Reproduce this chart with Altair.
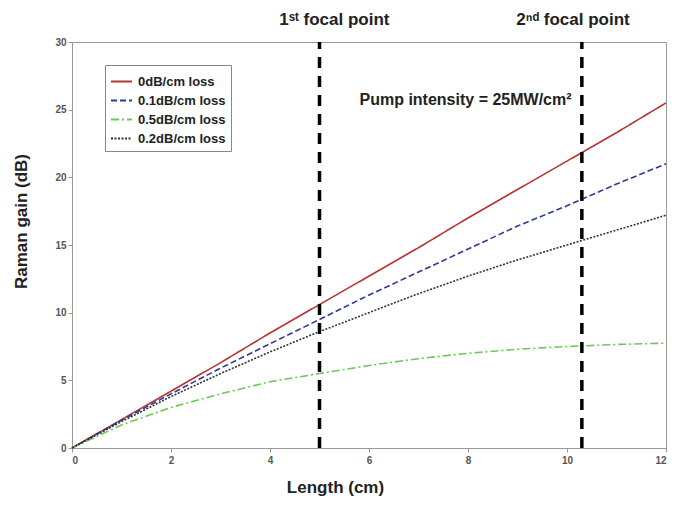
import altair as alt
import pandas as pd

length_cm = [0, 1, 2, 3, 4, 5, 6, 7, 8, 9, 10, 11, 12]
gain_0db = [0, 2.1, 4.2, 6.3, 8.5, 10.6, 12.7, 14.8, 17.0, 19.1, 21.2, 23.3, 25.5]
gain_01db = [0, 2.05, 4.0, 5.9, 7.7, 9.5, 11.3, 13.0, 14.7, 16.4, 17.9, 19.5, 21.0]
gain_05db = [0, 1.7, 3.0, 4.0, 4.9, 5.5, 6.1, 6.6, 7.0, 7.3, 7.5, 7.65, 7.75]
gain_02db = [0, 1.95, 3.8, 5.5, 7.1, 8.6, 10.0, 11.4, 12.7, 13.9, 15.0, 16.1, 17.2]

series_names = ["0dB/cm loss", "0.1dB/cm loss", "0.5dB/cm loss", "0.2dB/cm loss"]
series_colors = ["#b83434", "#2b3a9c", "#66cc55", "#333333"]
series_dash = [[1, 0], [6, 3], [8, 3, 2, 3], [2, 1.5]]

focal_x = [5, 10.3]
focal_labels = ["1ˢᵗ focal point", "2ⁿᵈ focal point"]
focal_label_x = [5.3, 10.12]

rows = []
for name, vals in zip(series_names, [gain_0db, gain_01db, gain_05db, gain_02db]):
    for x, y in zip(length_cm, vals):
        rows.append({"Length": x, "Gain": y, "Series": name})
df = pd.DataFrame(rows)

FONT = "Liberation Sans"
xscale = alt.Scale(domain=[0, 12], nice=False)
yscale = alt.Scale(domain=[0, 30], nice=False)

lines = alt.Chart(df).mark_line(strokeWidth=1.6).encode(
    x=alt.X("Length:Q", scale=xscale,
            axis=alt.Axis(title="Length (cm)", values=[0, 2, 4, 6, 8, 10, 12],
                          titleX=263)),
    y=alt.Y("Gain:Q", scale=yscale,
            axis=alt.Axis(title="Raman gain (dB)", values=[0, 5, 10, 15, 20, 25, 30],
                          titleY=179)),
    color=alt.Color("Series:N", sort=series_names,
                    scale=alt.Scale(domain=series_names, range=series_colors),
                    legend=alt.Legend(title=None, orient="none", legendX=33, legendY=23,
                                      symbolType="stroke", symbolSize=441,
                                      symbolStrokeWidth=2, labelFont=FONT,
                                      labelFontSize=13, labelFontWeight="bold",
                                      labelColor="#222", strokeColor="#888",
                                      fillColor="white", padding=5, rowPadding=-2,
                                      labelOffset=5)),
    strokeDash=alt.StrokeDash("Series:N", sort=series_names,
                              scale=alt.Scale(domain=series_names, range=series_dash),
                              legend=None),
)

fdf = pd.DataFrame({"x": focal_x, "y0": [0, 0], "y1": [30, 30]})
focal = alt.Chart(fdf).mark_rule(color="black", strokeWidth=3.5, strokeDash=[11, 8]).encode(
    x="x:Q", y="y0:Q", y2="y1:Q"
)

ldf = pd.DataFrame({"x": focal_label_x, "label": focal_labels})
flabels = alt.Chart(ldf).mark_text(font=FONT, fontSize=17, fontWeight="bold",
                                   color="#222", clip=False).encode(
    x="x:Q", y=alt.value(-22), text="label:N"
)

pdf = pd.DataFrame({"x": [7.95], "y": [25.7], "t": ["Pump intensity = 25MW/cm²"]})
pump = alt.Chart(pdf).mark_text(font=FONT, fontSize=16, fontWeight="bold",
                                color="#222").encode(x="x:Q", y="y:Q", text="t:N")

chart = alt.layer(lines, focal, flabels, pump).properties(
    width=594, height=406,
    autosize=alt.AutoSizeParams(type="none"),
    padding={"left": 64, "top": 34, "right": 3, "bottom": 50},
).configure_view(stroke="#999", strokeWidth=1).configure_axis(
    grid=False, domainColor="#999", tickColor="#999", tickSize=4,
    labelFont=FONT, labelFontSize=10, labelFontWeight="bold", labelColor="#555",
    titleFont=FONT, titleFontSize=17, titleFontWeight="bold", titleColor="#222",
).configure_axisX(titlePadding=14, labelPadding=3).configure_axisY(titlePadding=24)

chart.save("out.html", embed_options={"renderer": "svg", "actions": False})
